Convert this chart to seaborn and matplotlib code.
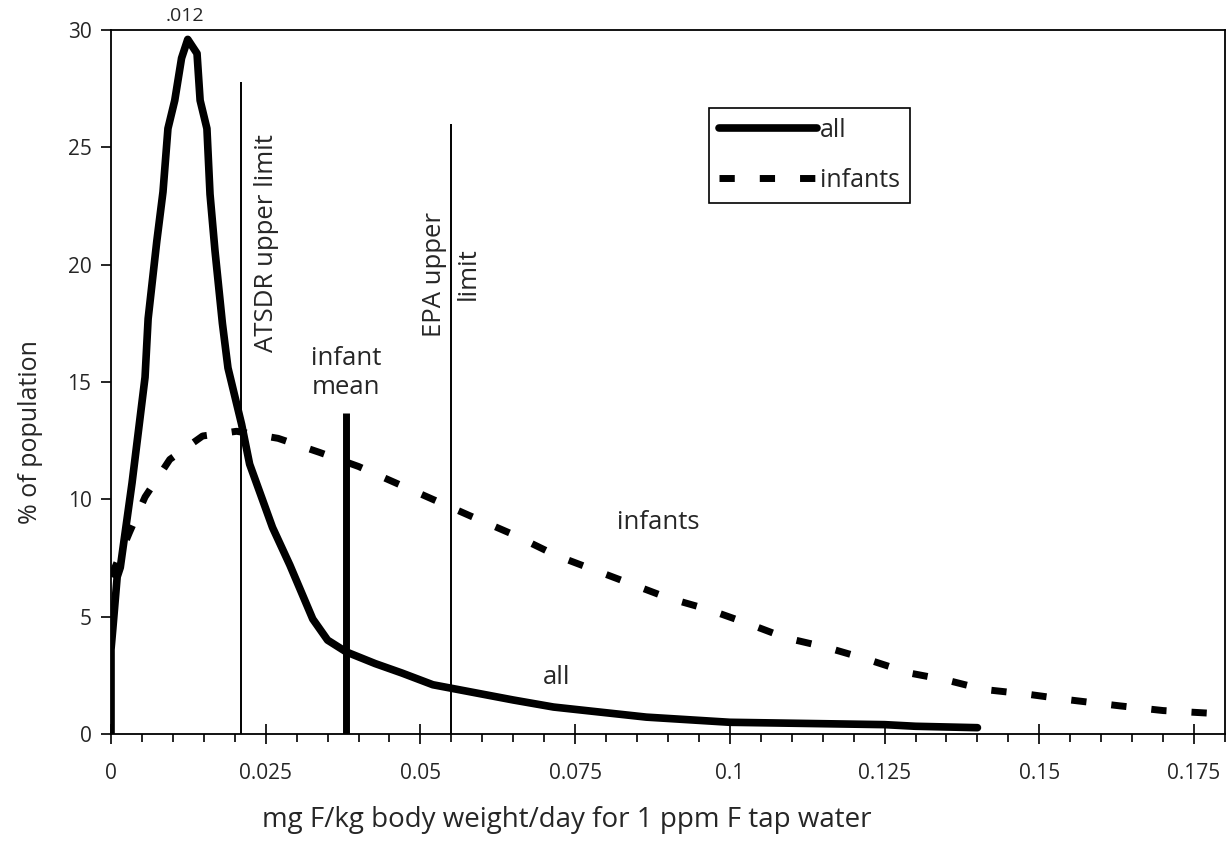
import matplotlib
matplotlib.use('Agg')
import matplotlib.pyplot as plt
import seaborn as sns

# "all" curve (% of population vs mg F/kg/day)
all_x = [0, 0, 0.0003, 0.001, 0.0015, 0.0034, 0.0055, 0.006, 0.0074, 0.0084, 0.0092, 0.0103,
         0.0114, 0.0124, 0.0139, 0.0144, 0.0155, 0.016, 0.0168, 0.018, 0.0189, 0.0211, 0.0224,
         0.0261, 0.0289, 0.0326, 0.035, 0.038, 0.0427, 0.047, 0.052, 0.055, 0.065, 0.0715,
         0.0865, 0.1, 0.125, 0.13, 0.14]
all_y = [0, 3.6, 4.5, 6.7, 7.1, 10.7, 15.2, 17.7, 21.0, 23.1, 25.8, 27.0,
         28.8, 29.6, 29.0, 27.0, 25.8, 23.0, 20.6, 17.5, 15.6, 13.2, 11.5,
         8.8, 7.2, 4.9, 4.0, 3.5, 3.0, 2.6, 2.1, 1.95, 1.45, 1.15,
         0.72, 0.5, 0.4, 0.33, 0.27]

# "infants" curve
inf_x = [0, 0.003, 0.0055, 0.0095, 0.0148, 0.0203, 0.027, 0.0337, 0.040, 0.046, 0.052, 0.058,
         0.065, 0.072, 0.079, 0.085, 0.090, 0.0966, 0.103, 0.109, 0.1155, 0.122, 0.129, 0.135,
         0.141, 0.148, 0.155, 0.163, 0.170, 0.178]
inf_y = [6.7, 8.6, 10.1, 11.7, 12.7, 12.9, 12.6, 12.0, 11.4, 10.7, 10.0, 9.3,
         8.5, 7.6, 6.9, 6.3, 5.8, 5.3, 4.7, 4.1, 3.7, 3.2, 2.6, 2.3,
         1.9, 1.7, 1.45, 1.2, 1.0, 0.88]

# reference lines: ATSDR upper limit, infant mean, EPA upper limit
ref_x = [0.021, 0.038, 0.055]
ref_top = [27.8, 13.7, 26.0]

xticks = [0, 0.025, 0.05, 0.075, 0.1, 0.125, 0.15, 0.175]
xticklabels = ['0', '0.025', '0.05', '0.075', '0.1', '0.125', '0.15', '0.175']
yticks = [0, 5, 10, 15, 20, 25, 30]

sns.set_style('ticks')
plt.rcParams['font.family'] = ['Open Sans', 'DejaVu Sans']

fig = plt.figure(figsize=(12.32, 8.57), dpi=100)
ax = fig.add_axes([0.0901, 0.1435, 0.9042, 0.8215])

sns.lineplot(x=all_x, y=all_y, estimator=None, sort=False, color='black', lw=5.5,
             label='all', ax=ax)
sns.lineplot(x=inf_x, y=inf_y, estimator=None, sort=False, color='black', lw=5,
             label='infants', ax=ax)
ax.lines[0].set_solid_joinstyle('round')
ax.lines[1].set_dashes([2.2, 3.6])
ax.lines[1].set_dash_capstyle('butt')

ax.vlines(ref_x, 0, ref_top, colors='black', linewidths=[1.4, 5, 1.4])

ax.set_xlim(0, 0.18)
ax.set_ylim(0, 30)
ax.set_xticks(xticks)
ax.set_xticklabels(xticklabels)
ax.set_xticks([i * 0.005 for i in range(37)], minor=True)
ax.set_yticks(yticks)
ax.tick_params(axis='x', which='major', direction='inout', length=14, width=1.2,
               labelsize=15, pad=14, color='black')
ax.tick_params(axis='x', which='minor', direction='out', length=6, width=1.2, color='black')
ax.tick_params(axis='y', which='major', direction='out', length=7, width=1.2,
               labelsize=15, pad=7, color='black')
for s in ax.spines.values():
    s.set_visible(True)
    s.set_linewidth(1.3)
    s.set_color('black')
ax.set_xlabel('')
ax.set_ylabel('')

ax.text(0.012, 30.2, '.012', ha='center', va='bottom', fontsize=14)
ax.text(0.0252, 20.9, 'ATSDR upper limit', rotation=90, ha='center', va='center', fontsize=18.5)
ax.text(0.038, 15.4, 'infant\nmean', ha='center', va='center', fontsize=18.5, linespacing=1.2)
ax.text(0.055, 19.6, 'EPA upper\nlimit', rotation=90, ha='center', va='center',
        multialignment='center', fontsize=18.5, linespacing=1.5)
ax.text(0.0885, 9.0, 'infants', ha='center', va='center', fontsize=18.5)
ax.text(0.072, 2.4, 'all', ha='center', va='center', fontsize=18.5)

leg = ax.legend(loc='upper left', bbox_to_anchor=(0.5755, 0.874), bbox_transform=fig.transFigure,
                frameon=True, fancybox=False, edgecolor='black', framealpha=1, fontsize=18,
                handlelength=3.9, borderpad=0.4, labelspacing=1.0, handletextpad=0.15,
                borderaxespad=0)
leg.get_frame().set_linewidth(1.2)

fig.text(0.025, 0.496, '% of population', rotation=90, ha='center', va='center', fontsize=18)
fig.text(0.46, 0.043, 'mg F/kg body weight/day for 1 ppm F tap water', ha='center',
         va='center', fontsize=20)

fig.savefig('out.png', dpi=100)
